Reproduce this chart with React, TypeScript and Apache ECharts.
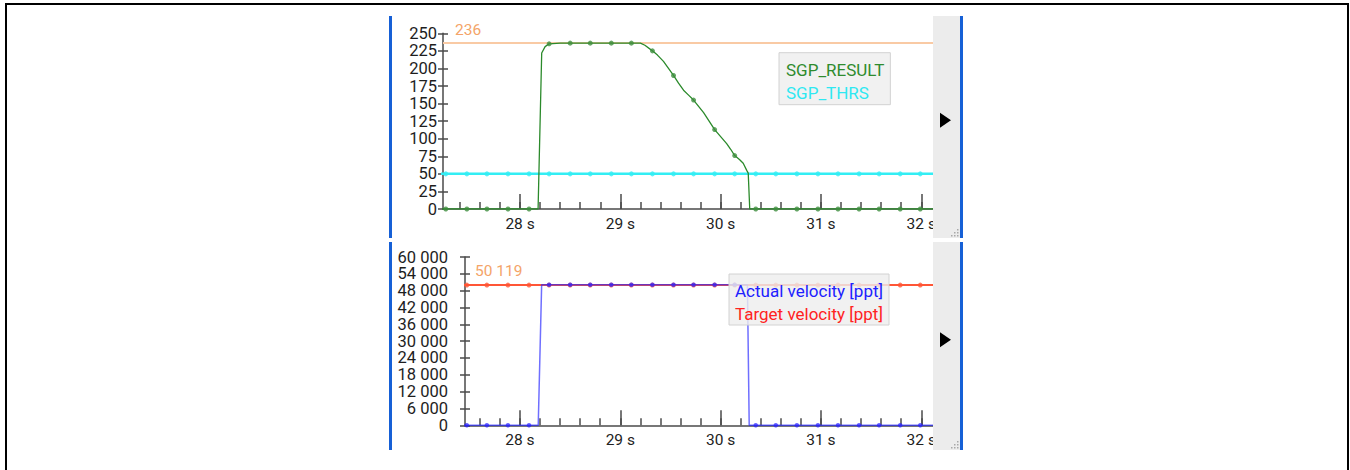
import React, { useEffect, useRef } from 'react';
import * as echarts from 'echarts';

// Marker sample instants (s) shared by all four signals
const SAMPLE_TIMES = [
  27.26, 27.47, 27.67, 27.88, 28.09, 28.29, 28.5, 28.7, 28.91, 29.11, 29.32, 29.53,
  29.73, 29.94, 30.14, 30.35, 30.55, 30.76, 30.97, 31.17, 31.38, 31.58, 31.79, 31.99,
];
const RESULT_SAMPLES = [0, 0, 0, 0, 0, 235, 236, 236, 236, 236, 225, 190, 155, 113, 76, 0, 0, 0, 0, 0, 0, 0, 0, 0];
const THRS_SAMPLES = [50, 50, 50, 50, 50, 50, 50, 50, 50, 50, 50, 50, 50, 50, 50, 50, 50, 50, 50, 50, 50, 50, 50, 50];
const ACTUAL_SAMPLES = [
  0, 0, 0, 0, 0, 50119, 50119, 50119, 50119, 50119, 50119, 50119, 50119, 50119, 50119, 0, 0, 0, 0, 0, 0, 0, 0, 0,
];
const TARGET_SAMPLES = [
  50000, 50000, 50000, 50000, 50000, 50000, 50000, 50000, 50000, 50000, 50000, 50000,
  50000, 50000, 50000, 50000, 50000, 50000, 50000, 50000, 50000, 50000, 50000, 50000,
];

// Continuous traces
const RESULT_TIMES = [
  27.2, 28.18, 28.216, 28.25, 28.29, 28.4, 28.5, 28.7, 28.91, 29.11, 29.2, 29.245, 29.32, 29.37, 29.43,
  29.48, 29.53, 29.58, 29.63, 29.68, 29.73, 29.78, 29.83, 29.89, 29.94, 30.0, 30.06, 30.1, 30.14, 30.19,
  30.225, 30.26, 30.275, 30.29, 32.2,
];
const RESULT_VALUES = [
  0, 0, 222, 231, 235, 236, 236, 236, 236, 236, 236, 233, 225, 219, 210,
  200, 190, 179, 169, 162, 155, 146, 137, 124, 113, 103, 93, 85, 76, 70,
  65, 55, 51, 0, 0,
];
const THRS_TIMES = [27.2, 32.2];
const THRS_VALUES = [50, 50];
const ACTUAL_TIMES = [27.2, 28.182, 28.216, 30.267, 30.285, 32.2];
const ACTUAL_VALUES = [0, 0, 50119, 50119, 0, 0];
const TARGET_TIMES = [27.2, 32.2];
const TARGET_VALUES = [50000, 50000];

// Axis ticks
const SECOND_TICKS = [28, 29, 30, 31, 32];
const SUB_TICKS = [
  27.4, 27.6, 27.8, 28.0, 28.2, 28.4, 28.6, 28.8, 29.0, 29.2, 29.4, 29.6, 29.8, 30.0,
  30.2, 30.4, 30.6, 30.8, 31.0, 31.2, 31.4, 31.6, 31.8, 32.0,
];
const RESULT_TICKS = [0, 25, 50, 75, 100, 125, 150, 175, 200, 225, 250];
const VELOCITY_TICKS = [0, 6000, 12000, 18000, 24000, 30000, 36000, 42000, 48000, 54000, 60000];

const FONT = 'Roboto';
const AXIS_COLOR = '#4a4a4a';
const PANEL_BLUE = '#1660d6';

const zip = (t: number[], v: number[]) => t.map((x, i) => [x, v[i]]);
const spaced = (v: number) => String(Math.round(v)).replace(/\B(?=(\d{3})+(?!\d))/g, ' ');

function xAxes(gridIndex: number, min: number, max: number) {
  return [
    {
      type: 'value',
      gridIndex,
      position: 'bottom',
      min,
      max,
      axisLine: { show: true, onZero: false, lineStyle: { color: AXIS_COLOR, width: 1.5 } },
      axisTick: { show: true, inside: true, length: 15, customValues: SECOND_TICKS, lineStyle: { color: AXIS_COLOR, width: 1.5 } },
      axisLabel: {
        show: true,
        customValues: SECOND_TICKS,
        formatter: (v: number) => `${v} s`,
        color: '#222',
        fontSize: 15.5,
        fontFamily: FONT,
        margin: 7,
      },
      splitLine: { show: false },
    },
    {
      type: 'value',
      gridIndex,
      position: 'bottom',
      min,
      max,
      axisLine: { show: false, onZero: false },
      axisTick: { show: true, inside: true, length: 7, customValues: SUB_TICKS, lineStyle: { color: AXIS_COLOR, width: 1.5 } },
      axisLabel: { show: false },
      splitLine: { show: false },
    },
  ];
}

function yAxes(gridIndex: number, max: number, ticks: number[], margin: number, fmt: (v: number) => string) {
  return [
    {
      type: 'value',
      gridIndex,
      position: 'left',
      min: 0,
      max,
      axisLine: { show: true, onZero: false, lineStyle: { color: AXIS_COLOR, width: 1.5 } },
      axisTick: { show: true, length: 5, customValues: ticks, lineStyle: { color: AXIS_COLOR, width: 1.5 } },
      axisLabel: { show: true, customValues: ticks, formatter: fmt, color: '#1e1e1e', fontSize: 16.5, fontFamily: FONT, margin },
      splitLine: { show: false },
    },
    {
      type: 'value',
      gridIndex,
      position: 'left',
      min: 0,
      max,
      axisLine: { show: false, onZero: false },
      axisTick: { show: true, inside: true, length: 5, customValues: ticks, lineStyle: { color: AXIS_COLOR, width: 1.5 } },
      axisLabel: { show: false },
      splitLine: { show: false },
    },
  ];
}

function maxLine(distance: number[]) {
  return {
    silent: true,
    symbol: 'none',
    z: 1,
    data: [{ type: 'max', valueDim: 'y' }],
    lineStyle: { color: '#f9caa4', width: 2, type: 'solid' },
    label: {
      show: true,
      position: 'insideStartTop',
      distance,
      color: '#f4a468',
      fontSize: 15.5,
      fontFamily: FONT,
      formatter: (p: any) => spaced(Array.isArray(p.value) ? p.value[1] : p.value),
    },
    emphasis: { disabled: true },
  };
}

function panel(y: number, h: number) {
  const cy = y + (h * 0.47);
  const grip = [];
  const gx = 957;
  const gy = y + h - 3;
  const dots = [[0, 0], [-3, 0], [-6, 0], [0, -3], [-3, -3], [0, -6]];
  for (const [dx, dy] of dots) {
    grip.push({ type: 'rect', z: 101, shape: { x: gx + dx, y: gy + dy, width: 1.5, height: 1.5 }, style: { fill: '#a8a8a8' } });
  }
  return [
    { type: 'rect', z: 100, shape: { x: 389, y, width: 3, height: h }, style: { fill: PANEL_BLUE } },
    { type: 'rect', z: 100, shape: { x: 933, y, width: 27, height: h }, style: { fill: '#ececec' } },
    { type: 'rect', z: 100, shape: { x: 960, y, width: 3, height: h }, style: { fill: PANEL_BLUE } },
    { type: 'polygon', z: 101, shape: { points: [[940, cy - 7.5], [940, cy + 7.5], [951, cy]] }, style: { fill: '#000' } },
    ...grip,
  ];
}

function legendBox(left: number, top: number, padding: number[], items: { name: string; color: string }[]) {
  return {
    left,
    top,
    orient: 'vertical',
    icon: 'none',
    itemWidth: 0,
    itemHeight: 0,
    itemGap: 3,
    padding,
    backgroundColor: 'rgba(238,238,238,0.82)',
    borderColor: '#d2d2d2',
    borderWidth: 1,
    selectedMode: false,
    textStyle: { fontSize: 17, fontFamily: FONT, lineHeight: 20 },
    data: items.map((it) => ({ name: it.name, textStyle: { color: it.color } })),
  };
}

export default function App() {
  const ref = useRef<HTMLDivElement>(null);

  useEffect(() => {
    if (!ref.current) return;
    const chart = echarts.init(ref.current, undefined, { renderer: 'svg' });

    const option: any = {
      animation: false,
      backgroundColor: '#ffffff',
      textStyle: { fontFamily: FONT },
      grid: [
        { left: 443, top: 33.3, width: 490, height: 175.7 },
        { left: 465, top: 257, width: 468, height: 168.3 },
      ],
      xAxis: [...xAxes(0, 27.232, 32.117), ...xAxes(1, 27.452, 32.117)],
      yAxis: [
        ...yAxes(0, 250, RESULT_TICKS, 6, (v: number) => String(v)),
        ...yAxes(1, 60000, VELOCITY_TICKS, 17, spaced),
      ],
      legend: [
        legendBox(779, 52.7, [7, 6, 2, 2], [
          { name: 'SGP_RESULT', color: '#2e8b2e' },
          { name: 'SGP_THRS', color: '#2ee8f2' },
        ]),
        legendBox(729, 274, [7, 6, 1, 1], [
          { name: 'Actual velocity [ppt]', color: '#2020ff' },
          { name: 'Target velocity [ppt]', color: '#ff2222' },
        ]),
      ],
      series: [
        {
          name: 'SGP_THRS',
          type: 'line',
          xAxisIndex: 0,
          yAxisIndex: 0,
          data: zip(THRS_TIMES, THRS_VALUES),
          showSymbol: false,
          lineStyle: { color: '#33eef4', width: 2.5 },
          itemStyle: { color: '#33eef4' },
          z: 2,
        },
        {
          name: 'SGP_THRS',
          type: 'scatter',
          xAxisIndex: 0,
          yAxisIndex: 0,
          data: zip(SAMPLE_TIMES, THRS_SAMPLES),
          symbolSize: 5,
          itemStyle: { color: '#33eef4' },
          z: 2,
        },
        {
          name: 'SGP_RESULT',
          type: 'line',
          xAxisIndex: 0,
          yAxisIndex: 0,
          data: zip(RESULT_TIMES, RESULT_VALUES),
          showSymbol: false,
          lineStyle: { color: '#2b8a2b', width: 1.3 },
          itemStyle: { color: '#2b8a2b' },
          markLine: maxLine([12, 5]),
          z: 3,
        },
        {
          name: 'SGP_RESULT',
          type: 'scatter',
          xAxisIndex: 0,
          yAxisIndex: 0,
          data: zip(SAMPLE_TIMES, RESULT_SAMPLES),
          symbolSize: 5,
          itemStyle: { color: '#3f8f3f' },
          z: 3,
        },
        {
          name: 'Target velocity [ppt]',
          type: 'line',
          xAxisIndex: 2,
          yAxisIndex: 2,
          data: zip(TARGET_TIMES, TARGET_VALUES),
          showSymbol: false,
          lineStyle: { color: '#ff5636', width: 2 },
          itemStyle: { color: '#ff5636' },
          z: 2,
        },
        {
          name: 'Target velocity [ppt]',
          type: 'scatter',
          xAxisIndex: 2,
          yAxisIndex: 2,
          data: zip(SAMPLE_TIMES, TARGET_SAMPLES),
          symbolSize: 5,
          itemStyle: { color: '#ff5636' },
          z: 2,
        },
        {
          name: 'Actual velocity [ppt]',
          type: 'line',
          xAxisIndex: 2,
          yAxisIndex: 2,
          data: zip(ACTUAL_TIMES, ACTUAL_VALUES),
          showSymbol: false,
          lineStyle: { color: '#2222ff', width: 1.5, opacity: 0.65 },
          itemStyle: { color: '#2222ff' },
          markLine: maxLine([10, 6]),
          z: 3,
        },
        {
          name: 'Actual velocity [ppt]',
          type: 'scatter',
          xAxisIndex: 2,
          yAxisIndex: 2,
          data: zip(SAMPLE_TIMES, ACTUAL_SAMPLES),
          symbolSize: 4.5,
          itemStyle: { color: '#2a22ff', opacity: 0.7 },
          z: 3,
        },
      ],
      graphic: [
        { type: 'rect', z: 100, shape: { x: 5, y: 3, width: 1344, height: 2 }, style: { fill: '#000' } },
        { type: 'rect', z: 100, shape: { x: 5, y: 3, width: 2, height: 467 }, style: { fill: '#000' } },
        { type: 'rect', z: 100, shape: { x: 1347, y: 3, width: 2, height: 467 }, style: { fill: '#000' } },
        ...panel(16, 222),
        ...panel(242, 208),
      ],
    };

    chart.setOption(option);
    return () => chart.dispose();
  }, []);

  return (
    <div
      ref={ref}
      style={{ position: 'fixed', left: 0, top: 0, width: 1350, height: 470, background: '#fff' }}
    />
  );
}
